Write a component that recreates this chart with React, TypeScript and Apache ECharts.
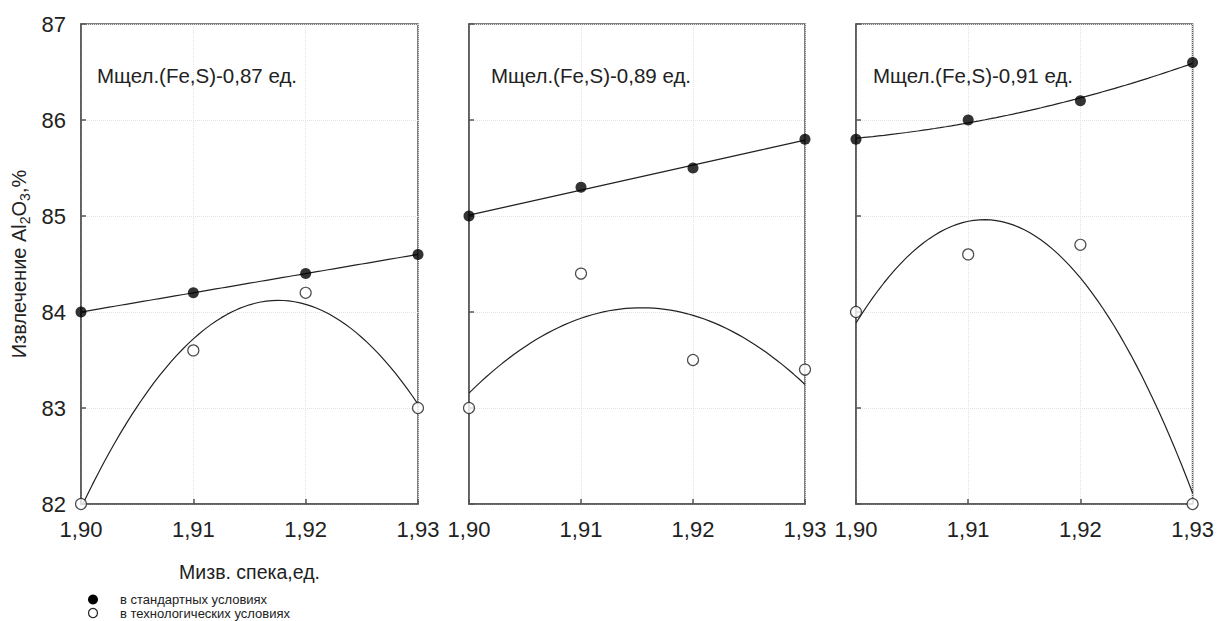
import React, { useEffect, useRef } from "react";
import * as echarts from "echarts";

const xValues = [1.9, 1.91, 1.92, 1.93];
const panelTitles = [
  "Мщел.(Fe,S)-0,87 ед.",
  "Мщел.(Fe,S)-0,89 ед.",
  "Мщел.(Fe,S)-0,91 ед.",
];
const standard087 = [84.0, 84.2, 84.4, 84.6];
const techno087 = [82.0, 83.6, 84.2, 83.0];
const standard089 = [85.0, 85.3, 85.5, 85.8];
const techno089 = [83.0, 84.4, 83.5, 83.4];
const standard091 = [85.8, 86.0, 86.2, 86.6];
const techno091 = [84.0, 84.6, 84.7, 82.0];
const yTicks = [82, 83, 84, 85, 86, 87];
const seriesNames = ["в стандартных условиях", "в технологических условиях"];
const xAxisTitle = "Мизв. спека,ед.";

// least-squares quadratic fit (trend curve as in the original plot)
function quadFit(xs: number[], ys: number[]) {
  const x0 = xs[0];
  const t = xs.map((x) => (x - x0) * 100);
  let s0 = 0, s1 = 0, s2 = 0, s3 = 0, s4 = 0, b0 = 0, b1 = 0, b2 = 0;
  t.forEach((ti, i) => {
    s0 += 1; s1 += ti; s2 += ti * ti; s3 += ti ** 3; s4 += ti ** 4;
    b0 += ys[i]; b1 += ti * ys[i]; b2 += ti * ti * ys[i];
  });
  const A = [
    [s0, s1, s2, b0],
    [s1, s2, s3, b1],
    [s2, s3, s4, b2],
  ];
  for (let c = 0; c < 3; c++) {
    for (let r = c + 1; r < 3; r++) {
      const f = A[r][c] / A[c][c];
      for (let k = c; k < 4; k++) A[r][k] -= f * A[c][k];
    }
  }
  const coef = [0, 0, 0];
  for (let r = 2; r >= 0; r--) {
    let s = A[r][3];
    for (let k = r + 1; k < 3; k++) s -= A[r][k] * coef[k];
    coef[r] = s / A[r][r];
  }
  return (x: number) => {
    const tt = (x - x0) * 100;
    return coef[0] + coef[1] * tt + coef[2] * tt * tt;
  };
}

function fitCurve(xs: number[], ys: number[]) {
  const f = quadFit(xs, ys);
  const out: number[][] = [];
  const n = 60;
  const a = xs[0];
  const b = xs[xs.length - 1];
  for (let i = 0; i <= n; i++) {
    const x = a + ((b - a) * i) / n;
    out.push([x, f(x)]);
  }
  return out;
}

const panels = [
  { std: standard087, tech: techno087 },
  { std: standard089, tech: techno089 },
  { std: standard091, tech: techno091 },
];

export default function App() {
  const ref = useRef<HTMLDivElement>(null);
  useEffect(() => {
    if (!ref.current) return;
    const chart = echarts.init(ref.current, null, { renderer: "svg" });
    const gridLefts = [81, 469, 856];
    const gridWidths = [337, 336, 337];
    const font = "Liberation Sans, Arial, sans-serif";
    const grids = gridLefts.map((l, i) => ({
      left: l,
      top: 24,
      width: gridWidths[i],
      height: 480,
      show: true,
      borderColor: "#555",
      borderWidth: 1.5,
      backgroundColor: "transparent",
    }));
    const xAxes = gridLefts.map((_, i) => ({
      type: "value",
      gridIndex: i,
      min: 1.9,
      max: 1.93,
      interval: 0.01,
      name: i === 0 ? xAxisTitle : "",
      nameLocation: "middle",
      nameGap: 58,
      nameTextStyle: { fontSize: 19.5, color: "#222", fontFamily: font },
      axisLine: { show: true, lineStyle: { color: "#555", width: 1.5 } },
      axisTick: { show: true, inside: true, length: 5, lineStyle: { color: "#555", width: 1.5 } },
      axisLabel: {
        fontSize: 22,
        color: "#222",
        fontFamily: font,
        margin: 14,
        showMinLabel: true,
        showMaxLabel: true,
        formatter: (v: number) => v.toFixed(2).replace(".", ","),
      },
      splitLine: { show: true, lineStyle: { color: "#e2e2e2", type: "dotted", width: 1 } },
    }));
    const yAxes = gridLefts.map((_, i) => ({
      type: "value",
      gridIndex: i,
      min: yTicks[0],
      max: yTicks[yTicks.length - 1],
      interval: 1,
      name: i === 0 ? "{a|Извлечение Al}{s|2}{a|O}{s|3}{a|,%}" : "",
      nameLocation: "middle",
      nameRotate: 90,
      nameGap: 49,
      nameTextStyle: {
        fontFamily: font,
        rich: {
          a: { fontSize: 20, color: "#222", fontFamily: font, lineHeight: 26, verticalAlign: "middle" },
          s: { fontSize: 14, color: "#222", fontFamily: font, lineHeight: 26, verticalAlign: "bottom", padding: [9, 0, 0, 0] },
        },
      },
      axisLine: { show: true, lineStyle: { color: "#555", width: 1.5 } },
      axisTick: { show: true, inside: true, length: 5, lineStyle: { color: "#555", width: 1.5 } },
      axisLabel: {
        show: i === 0,
        fontSize: 22,
        color: "#222",
        fontFamily: font,
        margin: 15,
      },
      splitLine: { show: true, lineStyle: { color: "#e2e2e2", type: "dotted", width: 1 } },
    }));
    const series: any[] = [];
    panels.forEach((p, i) => {
      series.push({
        type: "line",
        xAxisIndex: i,
        yAxisIndex: i,
        data: fitCurve(xValues, p.std),
        showSymbol: false,
        symbol: "none",
        lineStyle: { color: "#222", width: 1.2 },
        z: 2,
        silent: true,
      });
      series.push({
        type: "line",
        xAxisIndex: i,
        yAxisIndex: i,
        data: fitCurve(xValues, p.tech),
        showSymbol: false,
        symbol: "none",
        lineStyle: { color: "#222", width: 1.2 },
        z: 2,
        silent: true,
      });
      series.push({
        type: "scatter",
        name: seriesNames[0],
        xAxisIndex: i,
        yAxisIndex: i,
        data: xValues.map((x, k) => [x, p.std[k]]),
        symbol: "circle",
        symbolSize: 11,
        itemStyle: { color: "#000" },
        clip: false,
        z: 5,
      });
      series.push({
        type: "scatter",
        name: seriesNames[1],
        xAxisIndex: i,
        yAxisIndex: i,
        data: xValues.map((x, k) => [x, p.tech[k]]),
        symbol: "circle",
        symbolSize: 11,
        itemStyle: { color: "#fff", borderColor: "#222", borderWidth: 1.2 },
        clip: false,
        z: 5,
      });
    });
    const titleLefts = [97, 491, 873];
    const legendText = { fontSize: 13, lineHeight: 13, fill: "#222", fontFamily: font, verticalAlign: "middle" };
    chart.setOption({
      animation: false,
      backgroundColor: "#fff",
      title: titleLefts.map((l, i) => ({
        text: panelTitles[i],
        left: l,
        top: 65,
        padding: 0,
        textStyle: { fontSize: 20.5, fontWeight: "normal", color: "#222", fontFamily: font },
      })),
      grid: grids,
      xAxis: xAxes,
      yAxis: yAxes,
      graphic: [
        { type: "circle", shape: { cx: 93, cy: 599.5, r: 5 }, style: { fill: "#000" } },
        { type: "text", x: 120, y: 599.5, style: { ...legendText, text: seriesNames[0] } },
        { type: "circle", shape: { cx: 93, cy: 613, r: 4.5 }, style: { fill: "#fff", stroke: "#222", lineWidth: 1.2 } },
        { type: "text", x: 120, y: 613, style: { ...legendText, text: seriesNames[1] } },
      ],
      series,
    });
    return () => chart.dispose();
  }, []);
  return <div ref={ref} style={{ width: 1217, height: 621, position: "absolute", left: 0, top: 0 }} />;
}
